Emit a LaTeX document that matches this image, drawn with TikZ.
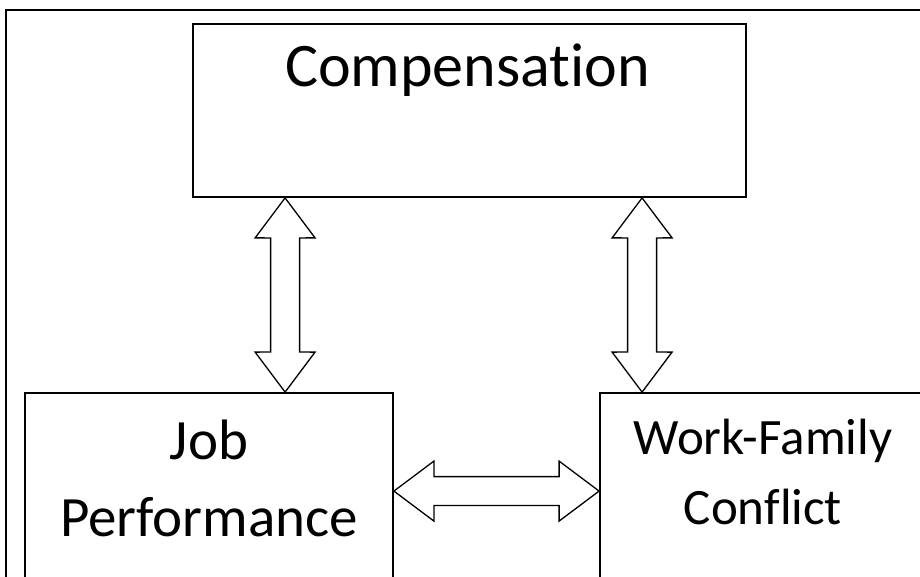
\documentclass[tikz,border=0pt]{standalone}
\usepackage{fontspec}
\setmainfont{Carlito}[Ligatures={NoCommon}]
\usetikzlibrary{calc}

% hollow double-headed block arrow between two points
\newcommand\blockarrow[2]{%
  \draw[blockarrow] (#1)
    -- ($(#1)!50pt!36.87:(#2)$) -- ($(#1)!42.55pt!19.92:(#2)$)
    -- ($(#2)!42.55pt!-19.92:(#1)$) -- ($(#2)!50pt!-36.87:(#1)$)
    -- (#2)
    -- ($(#2)!50pt!36.87:(#1)$) -- ($(#2)!42.55pt!19.92:(#1)$)
    -- ($(#1)!42.55pt!-19.92:(#2)$) -- ($(#1)!50pt!-36.87:(#2)$)
    -- cycle;}

\tikzset{
  box/.style={draw=black, line width=1.8pt, fill=white, inner sep=0pt},
  frame/.style={draw=black, line width=1.8pt},
  blockarrow/.style={draw=black, line width=1.3pt, fill=white, line join=miter},
  label/.style={inner sep=0pt, anchor=base, text=black},
}

\begin{document}
\begin{tikzpicture}[x=1pt, y=1pt]
  \useasboundingbox (0,0) rectangle (920,576);
  \clip (0,0) rectangle (920,576);
  \fill[white] (0,0) rectangle (920,576);

  % outer frame
  \draw[frame] (6,-20) rectangle (940,566);

  % boxes
  \node[box, minimum width=553pt, minimum height=173pt] (comp) at (469.5,465.5) {};
  \node[box, minimum width=368pt, minimum height=227pt] (jp) at (209,69.5) {};
  \node[box, minimum width=326pt, minimum height=227pt] (wfc) at (763,69.5) {};

  % box texts
  \node[label, font=\fontsize{62}{74}\selectfont] (compT) at ($(comp.north)+(-2,-63)$) {Compensation};
  \node[label, font=\fontsize{57}{77}\selectfont] (jpT1) at ($(jp.north)+(0,-67)$) {Job};
  \node[label, font=\fontsize{57}{77}\selectfont] (jpT2) at ($(jp.north)+(0,-144)$) {Performance};
  \node[label, font=\fontsize{51}{70}\selectfont] (wfcT1) at ($(wfc.north)+(0,-62)$) {Work-Family};
  \node[label, font=\fontsize{51}{70}\selectfont] (wfcT2) at ($(wfc.north)+(0,-132)$) {Conflict};

  % arrow end points on the box edges
  \coordinate (c1a) at ($(comp.south west)+(93,0)$);
  \coordinate (c1b) at (c1a |- jp.north);
  \coordinate (c2a) at ($(comp.south west)+(450,0)$);
  \coordinate (c2b) at (c2a |- wfc.north);
  \coordinate (h1) at ($(jp.north east)+(0,-99)$);
  \coordinate (h2) at (h1 -| wfc.west);

  % connectors
  \blockarrow{c1a}{c1b}
  \blockarrow{c2a}{c2b}
  \blockarrow{h1}{h2}
\end{tikzpicture}
\end{document}
